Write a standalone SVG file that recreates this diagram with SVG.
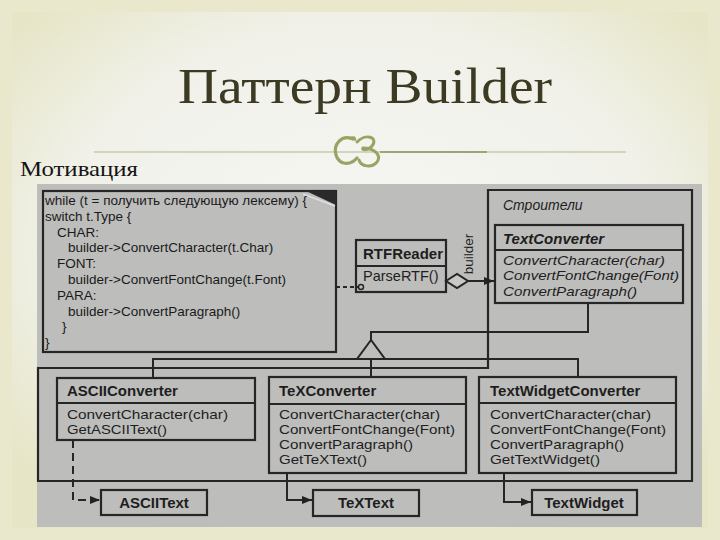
<svg xmlns="http://www.w3.org/2000/svg" width="720" height="540" viewBox="0 0 720 540">
  <defs>
    <radialGradient id="bg" cx="50%" cy="45%" r="65%">
      <stop offset="0" stop-color="#f6f6f3"/>
      <stop offset="0.65" stop-color="#f1f1ea"/>
      <stop offset="1" stop-color="#e6e5c6"/>
    </radialGradient>
    <marker id="arr" markerWidth="10" markerHeight="8" refX="10" refY="4" orient="auto" markerUnits="userSpaceOnUse">
      <path d="M0,0 L10,4 L0,8 Z" fill="#222"/>
    </marker>
    <style>
      .ln { fill: none; stroke: #262626; stroke-width: 2; }
      .box { fill: none; stroke: #262626; stroke-width: 2.2; }
      .code { font-family: "Liberation Sans", Arial, sans-serif; font-size: 13.5px; fill: #1a1a1a; }
      .hdr { font-family: "Liberation Sans", Arial, sans-serif; font-size: 15px; font-weight: bold; fill: #1e1e1e; }
      .m { font-family: "Liberation Sans", Arial, sans-serif; font-size: 13px; fill: #1e1e1e; }
      .it { font-style: italic; }
    </style>
  </defs>

  <!-- slide background -->
  <rect x="0" y="0" width="720" height="540" fill="#e9e8cc"/>
  <rect x="12" y="12" width="696" height="516" fill="url(#bg)"/>

  <!-- title area -->
  <text x="365" y="103" text-anchor="middle" font-family="'Liberation Serif', 'Times New Roman', serif" font-size="50" fill="#3c3a22" textLength="374" lengthAdjust="spacingAndGlyphs">Паттерн Builder</text>
  <line x1="94" y1="152" x2="626" y2="152" stroke="#b3b58c" stroke-width="1"/>
  <line x1="380" y1="152" x2="487" y2="152" stroke="#8f935f" stroke-width="1.6"/>
  <g id="ornament" fill="none" stroke="#9ba364" stroke-linecap="round">
    <path d="M353,139 C341,134 333,145 336,155 C339,165 350,166 357,158" stroke-width="3.2"/>
    <path d="M350,139 C352,136 356,137 355,140" stroke-width="2"/>
    <path d="M357,142 C365,133 379,137 372,146 C368,151 361,150 363,148 C374,148 382,155 377,162 C372,168 361,167 359,160" stroke-width="3"/>
  </g>

  <text x="20" y="176" font-family="'Liberation Serif', 'Times New Roman', serif" font-size="22" fill="#141414" textLength="118" lengthAdjust="spacingAndGlyphs">Мотивация</text>

  <!-- scanned diagram background -->
  <rect x="37" y="184" width="665" height="343" fill="#bdbdbb"/>

  <!-- package "Строители" -->
  <g id="package">
    <polygon class="box" points="488,190 692,190 692,481 38,481 38,368 488,368"/>
    <text class="m it" x="503" y="210" style="font-size:14px">Строители</text>
  </g>

  <!-- code note -->
  <g id="note">
    <rect class="box" x="43" y="191" width="293" height="161"/>
    <polygon points="306,191 336,191 336,205" fill="#2a2a2a"/>
    <line x1="303" y1="194" x2="335" y2="206" stroke="#e0e0e0" stroke-width="1.5"/>
    <text class="code" x="45" y="205" textLength="262" lengthAdjust="spacingAndGlyphs">while (t = получить следующую лексему) {</text>
    <text class="code" x="45" y="221">switch t.Type {</text>
    <text class="code" x="57" y="237">CHAR:</text>
    <text class="code" x="68" y="252">builder-&gt;ConvertCharacter(t.Char)</text>
    <text class="code" x="57" y="268">FONT:</text>
    <text class="code" x="68" y="284">builder-&gt;ConvertFontChange(t.Font)</text>
    <text class="code" x="57" y="300">PARA:</text>
    <text class="code" x="68" y="316">builder-&gt;ConvertParagraph()</text>
    <text class="code" x="62" y="331">}</text>
    <text class="code" x="45" y="347">}</text>
  </g>

  <!-- RTFReader -->
  <g id="rtfreader">
    <rect class="box" x="356" y="240" width="90" height="52"/>
    <line class="ln" x1="356" y1="266" x2="446" y2="266"/>
    <text class="hdr" x="363" y="259">RTFReader</text>
    <text class="m" x="363" y="281" style="font-size:14.5px">ParseRTF()</text>
  </g>

  <!-- TextConverter -->
  <g id="textconverter">
    <rect class="box" x="495" y="225" width="188" height="78"/>
    <line class="ln" x1="495" y1="250" x2="683" y2="250"/>
    <text class="hdr it" x="503" y="244">TextConverter</text>
    <text class="m it" x="503" y="265" textLength="162" lengthAdjust="spacingAndGlyphs">ConvertCharacter(char)</text>
    <text class="m it" x="503" y="280" textLength="176" lengthAdjust="spacingAndGlyphs">ConvertFontChange(Font)</text>
    <text class="m it" x="503" y="296" textLength="134" lengthAdjust="spacingAndGlyphs">ConvertParagraph()</text>
  </g>

  <!-- ASCIIConverter -->
  <g id="asciiconverter">
    <rect class="box" x="57" y="378" width="198" height="62"/>
    <line class="ln" x1="57" y1="403" x2="255" y2="403"/>
    <text class="hdr" x="67" y="396">ASCIIConverter</text>
    <text class="m" x="67" y="419" textLength="161" lengthAdjust="spacingAndGlyphs">ConvertCharacter(char)</text>
    <text class="m" x="67" y="434" textLength="100" lengthAdjust="spacingAndGlyphs">GetASCIIText()</text>
  </g>

  <!-- TeXConverter -->
  <g id="texconverter">
    <rect class="box" x="269" y="377" width="197" height="96"/>
    <line class="ln" x1="269" y1="404" x2="466" y2="404"/>
    <text class="hdr" x="279" y="396">TeXConverter</text>
    <text class="m" x="279" y="419" textLength="161" lengthAdjust="spacingAndGlyphs">ConvertCharacter(char)</text>
    <text class="m" x="279" y="434" textLength="176" lengthAdjust="spacingAndGlyphs">ConvertFontChange(Font)</text>
    <text class="m" x="279" y="449" textLength="134" lengthAdjust="spacingAndGlyphs">ConvertParagraph()</text>
    <text class="m" x="279" y="464" textLength="88" lengthAdjust="spacingAndGlyphs">GetTeXText()</text>
  </g>

  <!-- TextWidgetConverter -->
  <g id="textwidgetconverter">
    <rect class="box" x="479" y="377" width="197" height="96"/>
    <line class="ln" x1="479" y1="403" x2="676" y2="403"/>
    <text class="hdr" x="490" y="396">TextWidgetConverter</text>
    <text class="m" x="490" y="419" textLength="161" lengthAdjust="spacingAndGlyphs">ConvertCharacter(char)</text>
    <text class="m" x="490" y="434" textLength="176" lengthAdjust="spacingAndGlyphs">ConvertFontChange(Font)</text>
    <text class="m" x="490" y="449" textLength="134" lengthAdjust="spacingAndGlyphs">ConvertParagraph()</text>
    <text class="m" x="490" y="464" textLength="110" lengthAdjust="spacingAndGlyphs">GetTextWidget()</text>
  </g>

  <!-- products -->
  <g id="asciitext">
    <rect class="box" x="101" y="490" width="106" height="25"/>
    <text class="hdr" x="154" y="508" text-anchor="middle">ASCIIText</text>
  </g>
  <g id="textext">
    <rect class="box" x="313" y="490" width="106" height="26"/>
    <text class="hdr" x="366" y="508" text-anchor="middle">TeXText</text>
  </g>
  <g id="textwidget">
    <rect class="box" x="532" y="490" width="105" height="25"/>
    <text class="hdr" x="584" y="508" text-anchor="middle">TextWidget</text>
  </g>

  <!-- connectors -->
  <g id="connectors">
    <!-- note to RTFReader.ParseRTF -->
    <line class="ln" x1="336" y1="287" x2="358" y2="287" stroke-dasharray="4,3"/>
    <circle cx="361" cy="287" r="2.5" fill="none" stroke="#262626" stroke-width="1.5"/>
    <!-- builder aggregation -->
    <polygon points="446,281 457,274 468,281 457,288" fill="#c8c8c6" stroke="#262626" stroke-width="2"/>
    <line class="ln" x1="468" y1="281" x2="494" y2="281" marker-end="url(#arr)"/>
    <text class="m" transform="translate(473,254) rotate(-90)" text-anchor="middle" style="font-size:13.5px">builder</text>
    <!-- inheritance -->
    <path class="ln" d="M588,303 V332 H371 V340"/>
    <polygon points="371,340 357,359 385,359" fill="none" stroke="#262626" stroke-width="2"/>
    <path class="ln" d="M153,378 V359 H578 V377"/>
    <line class="ln" x1="371" y1="359" x2="371" y2="377"/>
    <!-- creates -->
    <path class="ln" d="M73,440 V500 H100" stroke-dasharray="8,5" marker-end="url(#arr)"/>
    <path class="ln" d="M287,473 V500 H312" marker-end="url(#arr)"/>
    <path class="ln" d="M504,473 V502 H531" marker-end="url(#arr)"/>
  </g>
</svg>
